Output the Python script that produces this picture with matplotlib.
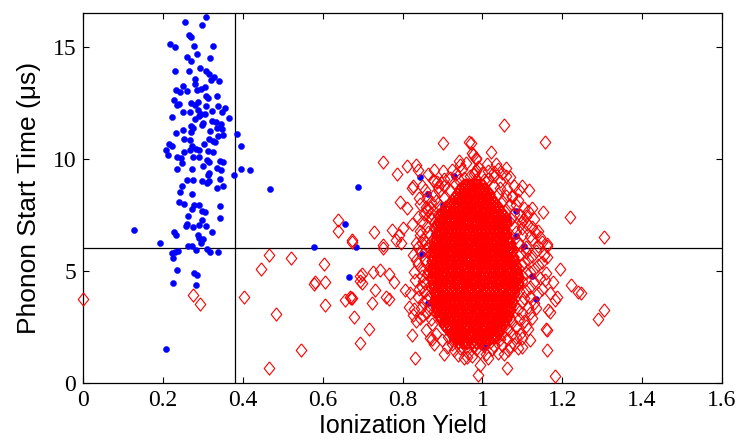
import matplotlib
matplotlib.use('Agg')
import matplotlib.pyplot as plt

# blue events (dots): (ionization yield, phonon start time)
blue_pts = [
    (0.307, 16.3), (0.255, 16.1), (0.299, 15.95), (0.265, 15.5), (0.271, 15.43), (0.219, 15.13),
    (0.230, 15.0), (0.279, 15.03), (0.325, 15.03), (0.286, 14.69), (0.260, 14.54), (0.270, 14.36),
    (0.319, 14.5), (0.230, 13.91), (0.266, 13.91), (0.293, 14.05), (0.308, 13.91), (0.316, 13.79),
    (0.327, 13.65), (0.341, 13.48), (0.320, 13.53), (0.280, 13.56), (0.281, 13.35), (0.251, 13.26),
    (0.234, 13.05), (0.244, 12.99), (0.260, 13.02), (0.286, 13.05), (0.295, 13.11), (0.305, 13.2),
    (0.308, 12.78), (0.312, 12.72), (0.336, 12.81), (0.227, 12.63), (0.240, 12.44), (0.235, 12.38),
    (0.270, 12.49), (0.280, 12.40), (0.287, 12.54), (0.309, 12.33), (0.338, 12.33), (0.356, 12.28),
    (0.250, 12.1), (0.268, 12.07), (0.289, 12.19), (0.295, 12.01), (0.306, 12.01), (0.322, 12.13),
    (0.349, 12.1), (0.224, 11.88), (0.290, 11.89), (0.280, 11.77), (0.365, 11.8), (0.323, 11.68),
    (0.333, 11.65), (0.346, 11.56), (0.301, 11.59), (0.270, 11.44), (0.276, 11.35), (0.299, 11.49),
    (0.250, 11.29), (0.336, 11.35), (0.348, 11.32), (0.233, 11.16), (0.271, 11.19), (0.318, 11.25),
    (0.337, 11.03), (0.351, 11.06), (0.385, 11.1), (0.253, 10.88), (0.269, 10.85), (0.315, 10.88),
    (0.326, 10.79), (0.331, 10.73), (0.215, 10.66), (0.223, 10.55), (0.272, 10.59), (0.303, 10.64),
    (0.395, 10.58), (0.208, 10.39), (0.268, 10.4), (0.282, 10.42), (0.291, 10.37), (0.312, 10.33),
    (0.325, 10.31), (0.213, 10.18), (0.253, 10.28), (0.235, 10.1), (0.246, 10.04), (0.276, 10.1),
    (0.290, 10.1), (0.310, 9.96), (0.315, 9.84), (0.342, 9.9), (0.350, 9.85), (0.248, 9.8),
    (0.301, 9.66), (0.235, 9.55), (0.273, 9.55), (0.335, 9.58), (0.345, 9.51), (0.396, 9.55),
    (0.417, 9.48), (0.379, 9.29), (0.315, 9.38), (0.312, 9.29), (0.342, 9.11), (0.260, 9.05),
    (0.275, 9.05), (0.297, 9.03), (0.310, 8.92), (0.316, 8.99), (0.248, 8.79), (0.336, 8.71),
    (0.351, 8.79), (0.244, 8.53), (0.272, 8.45), (0.468, 8.67), (0.240, 8.05), (0.254, 7.98),
    (0.277, 7.93), (0.291, 7.95), (0.272, 7.75), (0.298, 7.66), (0.305, 7.62), (0.342, 7.9),
    (0.263, 7.44), (0.344, 7.38), (0.298, 7.25), (0.261, 7.1), (0.259, 7.01), (0.276, 6.96),
    (0.291, 7.04), (0.308, 7.01), (0.128, 6.83), (0.227, 6.75), (0.233, 6.61), (0.287, 6.59),
    (0.323, 6.72), (0.301, 6.4), (0.290, 6.47), (0.295, 6.24), (0.194, 6.24), (0.262, 6.12),
    (0.272, 6.13), (0.284, 5.95), (0.310, 5.98), (0.317, 5.82), (0.337, 5.86), (0.222, 5.79),
    (0.230, 5.82), (0.238, 5.88), (0.226, 5.58), (0.235, 5.04), (0.277, 4.92), (0.285, 4.82),
    (0.226, 4.45), (0.284, 4.38), (0.209, 1.53),
    (0.689, 8.72), (0.656, 7.11), (0.579, 6.07), (0.683, 6.08), (0.666, 4.73),
    (0.845, 9.17), (0.930, 9.23), (0.865, 8.41), (0.902, 7.95), (0.900, 7.69), (0.880, 6.64),
    (1.083, 7.66), (1.064, 7.34), (1.083, 6.56), (1.105, 6.13), (0.848, 5.76), (0.865, 3.56),
    (1.133, 3.75), (1.005, 1.62), (1.123, 4.75),
]

# red events (open diamonds) away from the dense cluster
red_outliers = [
    (0.000, 3.75), (0.275, 3.93), (0.293, 3.53), (0.403, 3.84), (0.466, 5.71), (0.446, 5.09),
    (0.483, 3.08), (0.466, 0.67), (0.639, 7.25), (0.638, 6.80), (0.674, 6.28), (0.522, 5.59),
    (0.603, 5.31), (0.693, 4.78), (0.582, 4.50), (0.578, 4.43), (0.605, 4.50), (0.693, 4.55),
    (0.657, 3.72), (0.672, 3.81), (0.605, 3.47), (0.678, 2.96), (0.693, 1.77), (0.545, 1.47),
    (0.901, 10.70), (0.966, 10.73), (0.975, 10.25), (0.983, 10.03), (0.750, 9.84), (0.941, 9.90),
    (0.787, 9.33), (0.812, 9.69), (0.835, 9.70), (0.839, 9.51), (0.879, 9.48), (0.979, 9.33),
    (0.827, 8.77), (0.824, 8.71), (0.850, 8.79), (0.876, 9.06), (0.896, 8.94), (0.842, 8.27),
    (0.794, 8.08), (0.812, 7.80), (0.729, 6.75), (0.774, 6.83), (0.802, 6.93), (0.792, 6.62),
    (0.784, 6.38), (0.795, 6.24), (0.849, 6.26), (0.751, 6.17), (0.673, 6.38), (0.862, 7.72),
    (1.054, 11.52), (1.158, 10.73), (0.971, 10.70), (1.021, 10.28), (0.977, 10.18), (0.983, 9.99),
    (1.012, 9.78), (0.981, 9.39), (1.029, 9.39), (1.059, 9.24), (1.098, 8.79), (1.117, 8.62),
    (1.073, 8.32), (1.125, 7.80), (1.152, 7.62), (1.115, 7.65), (1.219, 7.40), (1.102, 7.28),
    (1.098, 6.91), (1.132, 6.75), (1.144, 6.53), (1.163, 6.21), (1.304, 6.53), (1.194, 5.08),
    (1.222, 4.38), (1.248, 4.03), (1.304, 3.26), (1.289, 2.86), (1.161, 6.12), (1.161, 5.64),
    (1.178, 4.52), (1.182, 3.71), (1.186, 3.85), (1.165, 3.26), (1.159, 2.40), (1.240, 4.08),
    (0.752, 6.04), (0.698, 4.85), (0.727, 4.94), (0.744, 5.04), (0.766, 4.85), (0.779, 4.49),
    (0.699, 4.45), (0.731, 4.15), (0.723, 3.56), (0.759, 3.83), (0.766, 3.74), (0.673, 3.78),
    (0.717, 2.42), (0.824, 2.14), (0.831, 1.10), (0.819, 4.00), (0.817, 3.41), (0.827, 3.04),
    (0.873, 1.95), (0.905, 1.28), (0.930, 1.92), (0.961, 1.17), (0.806, 4.15), (0.848, 4.30),
    (1.062, 0.67), (1.182, 0.31), (0.990, 0.36), (1.161, 1.47), (1.098, 1.62), (1.040, 1.33),
    (0.994, 0.80), (1.161, 2.37), (1.119, 1.92), (1.169, 3.18), (1.169, 4.00), (1.157, 4.60),
    (0.669, 3.85),
]

# red events on the ragged edge of the cluster
red_fringe = [
    (0.858, 2.35), (0.845, 2.9), (0.862, 3.15), (0.851, 3.6), (0.866, 3.9), (0.842, 4.2),
    (0.857, 4.45), (0.848, 4.75), (0.865, 5.0), (0.839, 5.3), (0.856, 5.55), (0.846, 5.85),
    (0.864, 6.1), (0.852, 6.4), (0.870, 6.6), (0.843, 6.8), (0.861, 7.0), (0.875, 7.3),
    (0.853, 7.55), (0.868, 7.8), (0.884, 8.1), (0.862, 8.3), (0.892, 8.55), (0.905, 8.8),
    (0.878, 9.0), (0.918, 9.15), (0.935, 9.3), (0.902, 9.45), (0.950, 9.55), (0.870, 3.4),
    (0.875, 2.65), (0.885, 2.2), (0.898, 1.9), (0.912, 1.6), (0.832, 4.6), (0.827, 5.7),
    (0.835, 6.25), (0.830, 3.3), (0.871, 4.3), (0.869, 5.2), (0.871, 5.75), (0.873, 6.35),
    (0.880, 6.9), (0.888, 7.5), (0.895, 7.9), (0.904, 8.25), (0.918, 8.6), (0.930, 8.9),
    (0.942, 9.05), (0.825, 7.1), (0.838, 7.4), (0.845, 8.0), (0.857, 8.6), (0.865, 9.3),
    (0.835, 2.75), (0.852, 3.05), (0.838, 3.85), (0.855, 4.05), (0.828, 4.95), (0.850, 5.1),
    (0.860, 5.35), (0.833, 5.5), (0.858, 5.95), (0.840, 6.05), (0.865, 6.75), (0.850, 7.2),
    (0.872, 7.6), (0.858, 7.85), (0.878, 8.4), (0.890, 8.75), (0.868, 2.0), (0.880, 1.75),
    (0.852, 4.55), (0.862, 4.85), (0.844, 6.6), (0.858, 6.25), (0.866, 7.45), (0.880, 7.15),
    (0.872, 8.05), (0.887, 8.95), (0.862, 3.7), (0.847, 3.35), (0.880, 3.2), (0.872, 2.85),
    (1.095, 2.2), (1.085, 2.5), (1.105, 2.75), (1.070, 2.9), (1.118, 3.1), (1.090, 3.3),
    (1.128, 3.55), (1.078, 3.5), (1.105, 3.8), (1.140, 4.0), (1.092, 4.1), (1.120, 4.3),
    (1.100, 4.55), (1.145, 4.7), (1.108, 4.9), (1.130, 5.1), (1.097, 5.25), (1.150, 5.4),
    (1.115, 5.55), (1.095, 5.75), (1.135, 5.9), (1.108, 6.05), (1.088, 6.3), (1.125, 6.4),
    (1.098, 6.6), (1.140, 6.8), (1.080, 6.95), (1.112, 7.1), (1.072, 7.3), (1.095, 7.5),
    (1.060, 7.7), (1.085, 7.95), (1.050, 8.1), (1.075, 8.3), (1.038, 8.45), (1.062, 8.65),
    (1.028, 8.8), (1.045, 9.0), (1.015, 9.1), (1.000, 9.35), (0.985, 9.5), (1.060, 9.6),
    (1.035, 9.75), (0.960, 9.8), (1.003, 9.05), (1.115, 2.4), (1.125, 2.9), (1.135, 3.35),
    (1.150, 4.2), (1.160, 4.9), (1.155, 5.7), (1.150, 6.3), (1.130, 7.3), (1.105, 7.8),
    (1.092, 8.6), (1.070, 9.2), (1.050, 9.35),
    (1.098, 2.0), (1.110, 2.55), (1.092, 2.85), (1.100, 3.1), (1.115, 3.4), (1.098, 3.6),
    (1.120, 3.85), (1.110, 4.1), (1.130, 4.5), (1.098, 4.75), (1.120, 4.95), (1.140, 5.25),
    (1.105, 5.4), (1.125, 5.65), (1.110, 5.85), (1.140, 6.1), (1.095, 6.15), (1.118, 6.55),
    (1.085, 6.75), (1.125, 6.95), (1.100, 7.2), (1.080, 7.55), (1.110, 7.45), (1.070, 7.95),
    (1.090, 8.15), (1.058, 8.35), (1.045, 8.7), (1.080, 8.8), (1.030, 9.25), (1.090, 4.35),
    (0.905, 9.1), (0.925, 9.5), (0.945, 9.7), (0.970, 9.25), (0.990, 9.65), (1.015, 9.45),
    (1.040, 9.55), (0.955, 9.15), (0.985, 9.05), (1.010, 8.95),
    (0.925, 1.75), (0.945, 1.55), (0.965, 1.35), (0.985, 1.5), (1.005, 1.65), (1.020, 1.85),
    (1.035, 2.05), (1.048, 1.7), (1.062, 1.95), (1.075, 2.2), (0.935, 2.05), (0.918, 2.4),
    (1.010, 1.3), (0.955, 1.1), (0.978, 1.7), (0.995, 1.95), (1.040, 2.35), (1.055, 2.55),
    (0.905, 2.6), (0.897, 2.95), (1.025, 1.5), (0.940, 1.25), (1.080, 1.75), (1.065, 1.45),
    (1.090, 1.55),
    (0.930, 1.45), (0.950, 1.85), (0.960, 1.6), (0.975, 1.2), (0.995, 1.4), (1.015, 1.1),
    (1.030, 1.65), (1.045, 1.95), (1.055, 1.3), (1.070, 1.65), (1.085, 2.05), (0.915, 2.05),
    (0.925, 2.2), (1.050, 2.2), (1.065, 2.4), (1.075, 2.7),
]

# dense core of the red cluster, one row of yields per start time
core_y = [1.83, 2.06, 2.24, 2.47, 2.64, 2.86, 3.04, 3.27, 3.44, 3.66, 3.85, 4.03,
          4.26, 4.44, 4.67, 4.84, 5.06, 5.23, 5.46, 5.64, 5.87, 6.04, 6.26, 6.43,
          6.66, 6.84, 7.07, 7.24, 7.46, 7.63, 7.86, 8.04, 8.27, 8.44, 8.66, 8.85]
core_x = [
    [0.940, 0.953, 0.962, 0.974, 0.983, 0.995, 1.006],
    [0.930, 0.941, 0.950, 0.962, 0.971, 0.983, 0.992, 1.004, 1.012, 1.022, 1.030],
    [0.921, 0.931, 0.936, 0.947, 0.955, 0.968, 0.976, 0.989, 0.997, 1.010, 1.019, 1.029, 1.038],
    [0.912, 0.922, 0.934, 0.942, 0.955, 0.963, 0.976, 0.984, 0.997, 1.005, 1.018, 1.026, 1.036, 1.045],
    [0.905, 0.915, 0.928, 0.938, 0.949, 0.959, 0.971, 0.981, 0.992, 1.002, 1.013, 1.023, 1.032, 1.042, 1.052],
    [0.897, 0.907, 0.916, 0.928, 0.937, 0.949, 0.958, 0.970, 0.979, 0.991, 1.000, 1.012, 1.021, 1.033, 1.041, 1.050, 1.058],
    [0.892, 0.901, 0.912, 0.922, 0.933, 0.943, 0.954, 0.965, 0.975, 0.986, 0.996, 1.007, 1.017, 1.028, 1.038, 1.046, 1.056, 1.063],
    [0.887, 0.896, 0.905, 0.917, 0.926, 0.938, 0.947, 0.959, 0.968, 0.980, 0.989, 1.001, 1.010, 1.022, 1.031, 1.043, 1.052, 1.062, 1.068],
    [0.883, 0.891, 0.902, 0.912, 0.923, 0.933, 0.944, 0.954, 0.965, 0.976, 0.986, 0.997, 1.007, 1.018, 1.028, 1.039, 1.049, 1.060, 1.070],
    [0.879, 0.887, 0.897, 0.908, 0.918, 0.929, 0.939, 0.950, 0.960, 0.971, 0.981, 0.992, 1.002, 1.013, 1.024, 1.034, 1.045, 1.055, 1.066, 1.075],
    [0.885, 0.893, 0.904, 0.913, 0.925, 0.934, 0.946, 0.955, 0.967, 0.976, 0.988, 0.997, 1.009, 1.018, 1.030, 1.039, 1.051, 1.060, 1.072],
    [0.882, 0.892, 0.903, 0.913, 0.924, 0.934, 0.945, 0.955, 0.966, 0.977, 0.987, 0.998, 1.008, 1.019, 1.029, 1.040, 1.050, 1.061, 1.071, 1.080],
    [0.880, 0.888, 0.899, 0.908, 0.920, 0.929, 0.941, 0.950, 0.962, 0.971, 0.983, 0.992, 1.004, 1.013, 1.025, 1.034, 1.046, 1.055, 1.067, 1.076, 1.085],
    [0.877, 0.887, 0.898, 0.908, 0.919, 0.929, 0.940, 0.950, 0.961, 0.972, 0.982, 0.993, 1.003, 1.014, 1.024, 1.035, 1.045, 1.056, 1.066, 1.077, 1.088],
    [0.875, 0.884, 0.895, 0.904, 0.916, 0.925, 0.937, 0.946, 0.958, 0.967, 0.979, 0.988, 1.000, 1.009, 1.021, 1.030, 1.042, 1.051, 1.063, 1.072, 1.084, 1.090],
    [0.876, 0.886, 0.897, 0.907, 0.918, 0.928, 0.939, 0.949, 0.960, 0.971, 0.981, 0.992, 1.002, 1.013, 1.023, 1.034, 1.044, 1.055, 1.065, 1.076, 1.087],
    [0.875, 0.883, 0.894, 0.903, 0.915, 0.924, 0.936, 0.945, 0.957, 0.966, 0.978, 0.987, 0.999, 1.008, 1.020, 1.029, 1.041, 1.050, 1.062, 1.071, 1.083],
    [0.876, 0.887, 0.897, 0.908, 0.918, 0.929, 0.939, 0.950, 0.960, 0.971, 0.982, 0.992, 1.003, 1.013, 1.024, 1.034, 1.045, 1.055, 1.066, 1.076, 1.083],
    [0.875, 0.884, 0.895, 0.904, 0.916, 0.925, 0.937, 0.946, 0.958, 0.967, 0.979, 0.988, 1.000, 1.009, 1.021, 1.030, 1.042, 1.051, 1.063, 1.072, 1.080],
    [0.876, 0.886, 0.897, 0.907, 0.918, 0.928, 0.939, 0.949, 0.960, 0.970, 0.981, 0.991, 1.002, 1.012, 1.023, 1.033, 1.044, 1.054, 1.065, 1.077],
    [0.877, 0.884, 0.895, 0.904, 0.916, 0.925, 0.937, 0.946, 0.958, 0.967, 0.979, 0.988, 1.000, 1.009, 1.021, 1.030, 1.042, 1.051, 1.063, 1.075],
    [0.878, 0.889, 0.899, 0.910, 0.920, 0.931, 0.941, 0.952, 0.962, 0.973, 0.983, 0.994, 1.004, 1.015, 1.025, 1.036, 1.046, 1.057, 1.067, 1.072],
    [0.880, 0.887, 0.898, 0.907, 0.919, 0.928, 0.940, 0.949, 0.961, 0.970, 0.982, 0.991, 1.003, 1.012, 1.024, 1.033, 1.045, 1.054, 1.066, 1.070],
    [0.884, 0.894, 0.905, 0.915, 0.926, 0.936, 0.947, 0.957, 0.968, 0.978, 0.989, 0.999, 1.010, 1.020, 1.031, 1.041, 1.052, 1.062, 1.065],
    [0.889, 0.897, 0.908, 0.917, 0.929, 0.938, 0.950, 0.959, 0.971, 0.980, 0.992, 1.001, 1.013, 1.022, 1.034, 1.043, 1.055, 1.060],
    [0.892, 0.902, 0.913, 0.923, 0.934, 0.944, 0.955, 0.965, 0.976, 0.986, 0.997, 1.007, 1.018, 1.028, 1.039, 1.049, 1.055],
    [0.887, 0.895, 0.903, 0.914, 0.923, 0.935, 0.944, 0.956, 0.965, 0.977, 0.986, 0.998, 1.007, 1.019, 1.028, 1.040, 1.050, 1.058],
    [0.891, 0.900, 0.910, 0.921, 0.931, 0.942, 0.952, 0.963, 0.973, 0.984, 0.994, 1.005, 1.015, 1.026, 1.036, 1.043, 1.052, 1.058],
    [0.895, 0.905, 0.913, 0.924, 0.933, 0.945, 0.954, 0.966, 0.975, 0.987, 0.996, 1.008, 1.017, 1.029, 1.035, 1.045, 1.053],
    [0.900, 0.912, 0.922, 0.933, 0.943, 0.954, 0.964, 0.975, 0.985, 0.996, 1.006, 1.017, 1.027, 1.037, 1.046],
    [0.908, 0.920, 0.928, 0.939, 0.948, 0.960, 0.969, 0.981, 0.990, 1.002, 1.011, 1.020, 1.030, 1.040],
    [0.918, 0.930, 0.940, 0.951, 0.961, 0.972, 0.982, 0.993, 1.003, 1.010, 1.020, 1.030],
    [0.928, 0.940, 0.947, 0.958, 0.967, 0.979, 0.988, 1.000, 1.011, 1.021],
    [0.937, 0.948, 0.957, 0.968, 0.978, 0.989, 0.998, 1.008, 1.016],
    [0.945, 0.955, 0.964, 0.975, 0.985, 0.995, 1.004],
    [0.953, 0.962, 0.971, 0.982, 0.990, 0.999],
]

x_ticks = [0, 0.2, 0.4, 0.6, 0.8, 1.0, 1.2, 1.4, 1.6]
x_tick_labels = ['0', '0.2', '0.4', '0.6', '0.8', '1', '1.2', '1.4', '1.6']
y_ticks = [0, 5, 10, 15]
cut_yield = 0.38
cut_time = 6

blue_x = [p[0] for p in blue_pts]
blue_y = [p[1] for p in blue_pts]
red_x = [p[0] for p in red_outliers + red_fringe]
red_y = [p[1] for p in red_outliers + red_fringe]
dense_x = [x for row in core_x for x in row]
dense_y = [y for y, row in zip(core_y, core_x) for _ in row]

# matlab style diamond, a bit taller than wide
diamond = [(0, 1), (0.8, 0), (0, -1), (-0.8, 0), (0, 1)]

fig = plt.figure(figsize=(7.41, 4.43), dpi=100)
ax = fig.add_axes([0.112, 0.1354, 0.8624, 0.8353])

ax.axvline(cut_yield, color='black', linewidth=0.9, zorder=1)
ax.axhline(cut_time, color='black', linewidth=0.9, zorder=1)

ax.plot(blue_x, blue_y, linestyle='none', marker='o', markersize=4.4,
        markerfacecolor='#0000ff', markeredgecolor='#0000ff', markeredgewidth=0.3, zorder=2)
ax.plot(dense_x, dense_y, linestyle='none', marker=diamond, markersize=9.5,
        markerfacecolor='none', markeredgecolor='#ff0000', markeredgewidth=1.4, zorder=3)
ax.plot(red_x, red_y, linestyle='none', marker=diamond, markersize=9.5,
        markerfacecolor='none', markeredgecolor='#ff0000', markeredgewidth=0.8, zorder=3,
        clip_on=False)

ax.set_xlim(0, 1.6)
ax.set_ylim(0, 16.5)
ax.set_xticks(x_ticks)
ax.set_xticklabels(x_tick_labels)
ax.set_yticks(y_ticks)

for lab in ax.get_xticklabels() + ax.get_yticklabels():
    lab.set_family('Liberation Serif')
    lab.set_fontsize(17)

ax.tick_params(direction='in', length=4.5, width=0.8, top=True, right=True, pad=5)
for sp in ax.spines.values():
    sp.set_linewidth(0.9)

ax.set_xlabel('Ionization Yield', family='Liberation Sans', fontsize=18, labelpad=2)
ax.set_ylabel('Phonon Start Time (\u03bcs)', family='Liberation Sans', fontsize=19, labelpad=8)

fig.savefig('out.png', dpi=100)
